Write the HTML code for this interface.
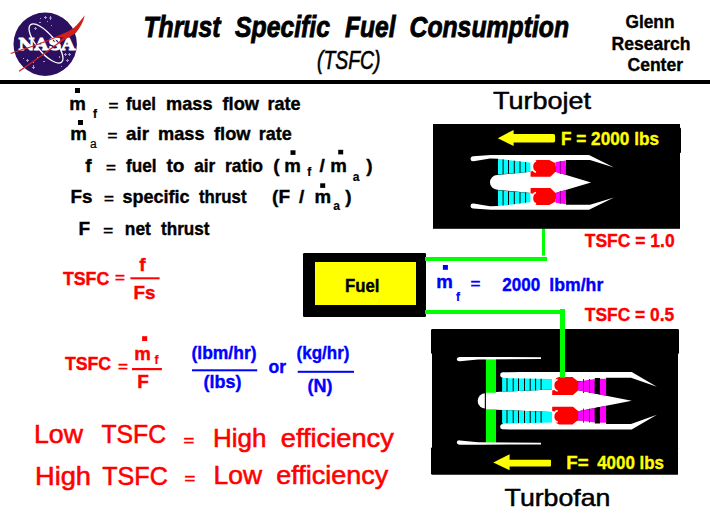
<!DOCTYPE html>
<html lang="en">
<head>
<meta charset="utf-8">
<title>Thrust Specific Fuel Consumption (TSFC)</title>
<style>
html,body{margin:0;padding:0;background:#ffffff;}
body{width:710px;height:532px;overflow:hidden;position:relative;}
svg{position:absolute;left:0;top:0;display:block;}
text{font-family:"Liberation Sans",Arial,Helvetica,sans-serif;fill:#000;stroke:none;}
.b{font-weight:bold;}
.t{font-weight:bold;font-style:italic;font-size:29.6px;stroke:#000;stroke-width:0.85px;}
.ts{font-style:italic;font-size:25px;stroke:#000;stroke-width:0.6px;}
.g{font-weight:bold;font-size:17.5px;stroke:#000;stroke-width:0.35px;}
.e{font-weight:bold;font-size:19px;stroke:#000;stroke-width:0.4px;}
.s{font-weight:bold;font-size:12px;stroke:#000;stroke-width:0.2px;}
.sa{font-weight:normal;font-size:12px;stroke:#000;stroke-width:0.2px;}
.l{font-weight:bold;font-size:18px;stroke-width:0.35px;}
.r{fill:#ff0000;stroke:#ff0000;}
.bl{fill:#0000ff;stroke:#0000ff;}
.y{fill:#ffff00;stroke:#ffff00;}
.big{font-size:24px;stroke:#000;stroke-width:0.5px;}
.big2{font-size:25px;stroke-width:0.55px;}
</style>
</head>
<body>
<svg width="710" height="532" viewBox="0 0 710 532">
<!-- header rule -->
<rect x="0" y="80" width="710" height="4" fill="#000"/>

<!-- NASA insignia -->
<g id="nasa">
<circle cx="45.2" cy="44.2" r="31.7" fill="#2b1060"/>
<g fill="#a79ad0">
<rect x="40" y="18" width="1" height="1"/><rect x="45" y="16" width="1" height="3"/><rect x="44" y="17" width="3" height="1"/>
<rect x="50" y="16" width="1" height="4"/><rect x="49" y="17.5" width="3" height="1"/><rect x="39" y="22" width="2" height="1"/>
<rect x="47" y="21" width="1" height="1"/><rect x="51" y="25" width="1" height="1"/><rect x="35" y="27" width="1" height="3"/><rect x="34" y="28" width="3" height="1"/>
<rect x="23" y="58" width="1" height="1"/><rect x="27" y="59" width="1" height="3"/><rect x="26" y="60" width="3" height="1"/>
<rect x="33" y="62" width="1" height="1"/><rect x="33" y="65" width="1" height="4"/><rect x="32" y="67" width="3" height="1"/><rect x="37" y="57" width="1" height="1"/>
<rect x="65" y="53" width="1" height="3"/><rect x="64" y="54" width="3" height="1"/><rect x="69" y="53" width="1" height="3"/><rect x="68" y="54" width="3" height="1"/>
<rect x="67" y="59" width="1" height="3"/><rect x="66" y="60" width="3" height="1"/><rect x="61" y="66" width="1" height="1"/><rect x="59" y="56" width="1" height="2"/>
<rect x="30" y="63" width="1" height="1"/><rect x="43" y="61" width="2" height="1"/>
</g>
<ellipse cx="46" cy="43.5" rx="24.3" ry="9" fill="none" stroke="#fff" stroke-width="1.3" transform="rotate(50.5 46 43.5)"/>
<text x="18.2" y="50.2" textLength="57" lengthAdjust="spacingAndGlyphs" style="font-family:'DejaVu Serif','Liberation Serif',serif;font-weight:bold;font-size:16.6px;fill:#fff;stroke:#fff;stroke-width:0.9px;">NASA</text>
<path d="M84.7,15.2 C81,20 79,23 75.5,26.2 C72,29.5 69,31 65.6,32.5 L55.8,36.7 L47.3,40.3 L31.8,45.9 L19.1,50.1 L10.6,53 L10.9,53.9 L19.4,51.1 L32.1,46.9 L47.6,41.3 L56.1,37.8 L63.5,37.3 L58.25,42.6 L46.95,51 L32.85,60.9 L18.75,70.8 L19.45,71.8 L33.55,61.9 L47.65,52 L58.95,43.6 L67.5,38 C72,35.3 75,33.5 75.8,33 C80,28 83.5,22 84.7,15.2 Z" fill="#d1201c"/>
</g>

<!-- title -->
<text class="t" x="143.4" y="37" textLength="77" lengthAdjust="spacingAndGlyphs">Thrust</text>
<text class="t" x="235" y="37" textLength="95" lengthAdjust="spacingAndGlyphs">Specific</text>
<text class="t" x="345" y="37" textLength="50.5" lengthAdjust="spacingAndGlyphs">Fuel</text>
<text class="t" x="409.5" y="37" textLength="159.5" lengthAdjust="spacingAndGlyphs">Consumption</text>
<text class="ts" x="317" y="68.8" textLength="63.5" lengthAdjust="spacingAndGlyphs">(TSFC)</text>
<!-- centre name -->
<text class="g" x="625.5" y="27.5" textLength="49" lengthAdjust="spacingAndGlyphs">Glenn</text>
<text class="g" x="611.5" y="49.9" textLength="79" lengthAdjust="spacingAndGlyphs">Research</text>
<text class="g" x="627.5" y="71.3" textLength="55.5" lengthAdjust="spacingAndGlyphs">Center</text>
<!-- definitions -->
<text class="e" x="69.2" y="109.9" textLength="16.6" lengthAdjust="spacingAndGlyphs">m</text>
<rect x="75" y="88" width="5" height="5" fill="#000"/>
<text class="s" x="93" y="117.7">f</text>
<text class="e" transform="translate(108.4,110.2) scale(1,0.68)" textLength="9.9" lengthAdjust="spacingAndGlyphs">=</text>
<text class="e" x="126" y="109.9" textLength="30" lengthAdjust="spacingAndGlyphs">fuel</text>
<text class="e" x="166" y="109.9" textLength="46.5" lengthAdjust="spacingAndGlyphs">mass</text>
<text class="e" x="222.5" y="109.9" textLength="36.5" lengthAdjust="spacingAndGlyphs">flow</text>
<text class="e" x="267.5" y="109.9" textLength="33" lengthAdjust="spacingAndGlyphs">rate</text>
<text class="e" x="70.2" y="139.6" textLength="16.6" lengthAdjust="spacingAndGlyphs">m</text>
<rect x="78" y="120" width="5" height="5" fill="#000"/>
<text class="sa" x="90" y="147.7">a</text>
<text class="e" transform="translate(107.4,139.9) scale(1,0.68)" textLength="9.9" lengthAdjust="spacingAndGlyphs">=</text>
<text class="e" x="126" y="139.6" textLength="23" lengthAdjust="spacingAndGlyphs">air</text>
<text class="e" x="158" y="139.6" textLength="46.5" lengthAdjust="spacingAndGlyphs">mass</text>
<text class="e" x="214" y="139.6" textLength="36.5" lengthAdjust="spacingAndGlyphs">flow</text>
<text class="e" x="258.7" y="139.6" textLength="33" lengthAdjust="spacingAndGlyphs">rate</text>
<text class="e" x="85.2" y="171.6">f</text>
<text class="e" transform="translate(106,171.9) scale(1,0.68)" textLength="9.9" lengthAdjust="spacingAndGlyphs">=</text>
<text class="e" x="126" y="171.6" textLength="30.5" lengthAdjust="spacingAndGlyphs">fuel</text>
<text class="e" x="166.5" y="171.6" textLength="18" lengthAdjust="spacingAndGlyphs">to</text>
<text class="e" x="194.3" y="171.6" textLength="21" lengthAdjust="spacingAndGlyphs">air</text>
<text class="e" x="225" y="171.6" textLength="38" lengthAdjust="spacingAndGlyphs">ratio</text>
<text class="e" x="273.3" y="171.6">(</text>
<text class="e" x="284.2" y="171.6" textLength="16.6" lengthAdjust="spacingAndGlyphs">m</text>
<rect x="290.5" y="150.3" width="5" height="4.6" fill="#000"/>
<text class="s" x="307.3" y="176.3">f</text>
<text class="e" x="319.5" y="171.6">/</text>
<text class="e" x="330.3" y="171.6" textLength="16.6" lengthAdjust="spacingAndGlyphs">m</text>
<rect x="338.2" y="149.8" width="5" height="4.6" fill="#000"/>
<text class="s" x="352.8" y="180.6">a</text>
<text class="e" x="366.3" y="171.6">)</text>
<text class="e" x="70.5" y="202.8" textLength="22" lengthAdjust="spacingAndGlyphs">Fs</text>
<text class="e" transform="translate(104,203.10000000000002) scale(1,0.68)" textLength="9.9" lengthAdjust="spacingAndGlyphs">=</text>
<text class="e" x="122.5" y="202.8" textLength="67" lengthAdjust="spacingAndGlyphs">specific</text>
<text class="e" x="199" y="202.8" textLength="47.5" lengthAdjust="spacingAndGlyphs">thrust</text>
<text class="e" x="272" y="202.8">(</text>
<text class="e" x="278.5" y="202.8">F</text>
<text class="e" x="299" y="202.8">/</text>
<text class="e" x="314.6" y="202.8" textLength="16.6" lengthAdjust="spacingAndGlyphs">m</text>
<rect x="320.2" y="183.3" width="5" height="4.6" fill="#000"/>
<text class="s" x="333.3" y="210">a</text>
<text class="e" x="345.3" y="202.8">)</text>
<text class="e" x="78.6" y="234.5">F</text>
<text class="e" transform="translate(103.2,234.8) scale(1,0.68)" textLength="9.9" lengthAdjust="spacingAndGlyphs">=</text>
<text class="e" x="124.8" y="234.5" textLength="26" lengthAdjust="spacingAndGlyphs">net</text>
<text class="e" x="161" y="234.5" textLength="48.5" lengthAdjust="spacingAndGlyphs">thrust</text>
<!-- TSFC formulas -->
<text class="e r" x="62.9" y="285" textLength="46.3" lengthAdjust="spacingAndGlyphs">TSFC</text>
<text class="e r" transform="translate(114.9,281.8) scale(1,0.68)" textLength="9.9" lengthAdjust="spacingAndGlyphs">=</text>
<rect x="130.4" y="277.3" width="29.2" height="2" fill="#ff0000"/>
<text class="e r" x="139.2" y="271.4">f</text>
<text class="e r" x="133.6" y="299.4" textLength="22" lengthAdjust="spacingAndGlyphs">Fs</text>
<text class="e r" x="64.9" y="370" textLength="46.2" lengthAdjust="spacingAndGlyphs">TSFC</text>
<text class="e r" transform="translate(117.9,370.7) scale(1,0.68)" textLength="9.9" lengthAdjust="spacingAndGlyphs">=</text>
<rect x="132" y="368" width="29.9" height="2.2" fill="#ff0000"/>
<text class="e r" x="134.2" y="359.8" textLength="16.6" lengthAdjust="spacingAndGlyphs">m</text>
<rect x="142.1" y="336.2" width="5.1" height="4.8" fill="#ff0000"/>
<text class="s r" x="154.5" y="364.4">f</text>
<text class="e r" x="137.2" y="387.7">F</text>
<!-- units -->
<text class="e bl" x="191.5" y="359.4" textLength="65" lengthAdjust="spacingAndGlyphs">(lbm/hr)</text>
<rect x="192" y="369.3" width="65.2" height="2" fill="#0000ff"/>
<text class="e bl" x="203.6" y="388" textLength="38" lengthAdjust="spacingAndGlyphs">(lbs)</text>
<text class="e bl" x="268.5" y="373.3" textLength="17.5" lengthAdjust="spacingAndGlyphs">or</text>
<text class="e bl" x="296.5" y="359.4" textLength="53" lengthAdjust="spacingAndGlyphs">(kg/hr)</text>
<rect x="297.7" y="370.8" width="56.3" height="2" fill="#0000ff"/>
<text class="e bl" x="307.4" y="392" textLength="25" lengthAdjust="spacingAndGlyphs">(N)</text>
<!-- conclusions -->
<text class="big2 r" x="34" y="443.1" textLength="49" lengthAdjust="spacingAndGlyphs">Low</text>
<text class="big2 r" x="101.5" y="443.1" textLength="64.5" lengthAdjust="spacingAndGlyphs">TSFC</text>
<text class="e r" transform="translate(183.5,444.5) scale(1,0.7)" textLength="10.8" lengthAdjust="spacingAndGlyphs">=</text>
<text class="big2 r" x="213" y="446.9" textLength="53.5" lengthAdjust="spacingAndGlyphs">High</text>
<text class="big2 r" x="280.8" y="446.9" textLength="113" lengthAdjust="spacingAndGlyphs">efficiency</text>
<text class="big2 r" x="35" y="484.5" textLength="56" lengthAdjust="spacingAndGlyphs">High</text>
<text class="big2 r" x="102.3" y="484.5" textLength="65.5" lengthAdjust="spacingAndGlyphs">TSFC</text>
<text class="e r" transform="translate(184.6,482.90000000000003) scale(1,0.7)" textLength="10.8" lengthAdjust="spacingAndGlyphs">=</text>
<text class="big2 r" x="213.5" y="483.5" textLength="48.5" lengthAdjust="spacingAndGlyphs">Low</text>
<text class="big2 r" x="276.2" y="483.5" textLength="112" lengthAdjust="spacingAndGlyphs">efficiency</text>
<!-- fuel tank -->
<rect x="303" y="253" width="123" height="63.9" rx="1.2" fill="#000"/>
<rect x="315" y="262" width="101" height="43" fill="#ffff00"/>
<text class="e" x="345" y="291.6" textLength="34.5" lengthAdjust="spacingAndGlyphs">Fuel</text>
<!-- fuel lines -->
<g fill="#00ff00">
<rect x="425" y="257" width="122.1" height="4"/>
<rect x="542" y="228" width="3" height="27.6"/>
<rect x="425" y="310" width="136" height="4"/>
<rect x="560" y="309" width="5" height="22"/>
</g>
<!-- flow rate label -->
<text class="e bl" x="436.2" y="288" textLength="16.6" lengthAdjust="spacingAndGlyphs">m</text>
<rect x="442.9" y="265" width="5" height="4.8" fill="#0000ff"/>
<text class="s bl" x="456" y="300.8">f</text>
<text class="e bl" transform="translate(470.5,288.1) scale(1,0.68)" textLength="9.9" lengthAdjust="spacingAndGlyphs">=</text>
<text class="e bl" x="502.3" y="291" textLength="38" lengthAdjust="spacingAndGlyphs">2000</text>
<text class="e bl" x="549.3" y="291" textLength="54" lengthAdjust="spacingAndGlyphs">lbm/hr</text>
<text class="l r" x="584.8" y="247.3" textLength="89.8" lengthAdjust="spacingAndGlyphs">TSFC = 1.0</text>
<text class="l r" x="584.8" y="321.4" textLength="89.5" lengthAdjust="spacingAndGlyphs">TSFC = 0.5</text>
<!-- engine titles -->
<text class="big" x="493" y="108.5" textLength="98" lengthAdjust="spacingAndGlyphs">Turbojet</text>
<text class="big" x="504.6" y="506.1" textLength="105.8" lengthAdjust="spacingAndGlyphs">Turbofan</text>
<!-- TURBOJET -->
<g id="turbojet">
<rect x="433" y="124" width="247" height="104.8" fill="#000"/>
<rect x="675" y="127.8" width="6" height="25.2" rx="0.8" fill="#000"/>
<path d="M497.8,138.2 L513.6,129.9 L513.6,134 L553.5,134 Q555.1,134 555.1,136 L555.1,140.8 Q555.1,142.6 553.5,142.6 L513.6,142.6 L513.6,146 Z" fill="#ffff00"/>
<text class="l y" x="561" y="144.7" textLength="98" lengthAdjust="spacingAndGlyphs">F = 2000 lbs</text>
<path d="M497.3,175.1 A7.3,7.3 0 0 0 497.3,189.7 L531,193.1 L555.5,193 L591,182.4 L555.5,171.8 L531,171.7 Z" fill="#fff"/>
<g id="tjhalf">
<path d="M473,156.3 Q470.4,156.6 470.5,158.9 Q470.6,161.6 473.6,161.3 L490,158.6 L498,158.7 L498,166 L566,166 L566,160 L590,160 L614,167.4 L589,155 L491,155 Z" fill="#fff"/>
<path d="M498,158.7 L531,162.7 L531,171.7 L498,174.5 Z" fill="#00ffff"/>
<clipPath id="cj"><path d="M498,158.7 L531,162.7 L531,171.7 L498,174.5 Z"/></clipPath>
<g fill="#000" clip-path="url(#cj)"><rect x="502.6" y="158" width="1" height="17"/><rect x="508" y="158" width="1" height="17"/><rect x="513.8" y="158" width="1" height="17"/><rect x="519.5" y="158" width="1" height="17"/><rect x="525.1" y="158" width="1" height="17"/></g>
<rect x="530.4" y="160.5" width="6" height="12" fill="#fff"/>
<path d="M530.6,176.8 L530.6,171.5 L533,171 Q531.2,166.5 533.2,162.5 Q534.5,160.2 537,159.9 L549.3,159.9 L555.5,163.2 L555.5,171.7 L550.4,176.8 Z" fill="#ff0000"/>
<path d="M536,161 Q532.4,162 532.4,166.6 Q532.4,171.3 536,172.3" fill="none" stroke="#fff" stroke-width="1.6"/>
<path d="M555.5,162.1 L565.9,160.6 L565.9,175.1 L555.5,171.9 Z" fill="#ff00ff"/>
<rect x="559.8" y="161" width="1" height="13" fill="#800080"/>
</g>
<use href="#tjhalf" transform="translate(0,364.8) scale(1,-1)"/>
</g>

<!-- TURBOFAN -->
<g id="turbofan">
<rect x="432" y="329" width="246" height="145.5" fill="#000"/>
<rect x="431" y="329.3" width="248" height="24.5" rx="0.8" fill="#000"/>
<rect x="431" y="447.5" width="247" height="27" rx="0.8" fill="#000"/>
<path d="M493.3,462.4 L509.6,454.2 L509.6,459.7 L550,459.7 Q551,459.7 551,461 L551,465.6 Q551,466.6 550,466.6 L509.6,466.6 L509.6,470.2 Z" fill="#ffff00"/>
<text class="l y" x="566.3" y="468.7" textLength="22.3" lengthAdjust="spacingAndGlyphs">F=</text>
<text class="l y" x="597.2" y="468.7" textLength="66.8" lengthAdjust="spacingAndGlyphs">4000 lbs</text>
<rect x="485.9" y="359" width="10.1" height="83.8" fill="#00ff00"/>
<path d="M485.3,393.3 A7.6,7.6 0 0 0 485.3,408.5 Z" fill="#fff"/>
<path d="M486,392.8 L496,392.8 L496,391.9 L552.2,389.5 L578.1,390.3 L631.7,400.8 L578.1,411.3 L552.2,412.1 L496,409.8 L496,409.2 L486,409.2 Z" fill="#fff"/>
<g id="tfhalf">
<path d="M459.5,356.9 Q456.6,357.1 456.8,359.3 Q457,361.6 460,361.2 L478,359.4 L541,358.9 L541,357.2 L480,356.9 Z" fill="#fff"/>
<path d="M502.5,372.3 Q500,372.6 500.2,375 Q500.4,377.8 503,377.7 L503,381 L606.1,381 L606.1,377.7 L631,377.7 L656.9,386.8 L631.7,372 L520,372 Z" fill="#fff"/>
<path d="M502.1,378 L552.2,379.1 L552.2,389.5 L502.1,391.7 Z" fill="#00ffff"/>
<clipPath id="cf"><path d="M502.1,378 L552.2,379.1 L552.2,389.5 L502.1,391.7 Z"/></clipPath>
<g fill="#000" clip-path="url(#cf)"><rect x="506.5" y="377" width="1" height="15"/><rect x="512.7" y="377" width="1" height="15"/><rect x="518" y="377" width="1" height="15"/><rect x="524" y="377" width="1" height="15"/><rect x="529.7" y="377" width="1" height="15"/><rect x="535.1" y="377" width="1" height="15"/><rect x="540.6" y="377" width="1" height="15"/></g>
<rect x="552" y="378.5" width="6" height="13" fill="#fff"/>
<path d="M552.2,394.9 L552.2,390.5 L554.5,390 Q552.6,385 554.8,380.5 Q556,377.6 559,377.1 L572.5,377.1 L578.1,381.6 L578.1,390.6 L573,394.9 Z" fill="#ff0000"/>
<path d="M557.6,379.5 Q553.6,380.5 553.6,385.2 Q553.6,390 557.6,391" fill="none" stroke="#fff" stroke-width="1.6"/>
<path d="M578.1,381.4 L594.8,379.1 L594.8,393.5 L578.1,390.3 Z" fill="#ff00ff"/>
<rect x="583" y="379" width="1" height="14" fill="#800080"/><rect x="589" y="379" width="1" height="14" fill="#800080"/>
<path d="M594.8,378 L600,378 L600,394.6 L594.8,393.5 Z" fill="#000"/>
<path d="M600,378.8 L606.1,378.8 L606.1,395.8 L600,394.6 Z" fill="#ff00ff"/>
</g>
<use href="#tfhalf" transform="translate(0,801.6) scale(1,-1)"/>
<rect x="484.8" y="392.5" width="1" height="17" fill="#000"/>
<rect x="560" y="329" width="5" height="48.7" fill="#00ff00"/>
</g>

</svg>
</body>
</html>
